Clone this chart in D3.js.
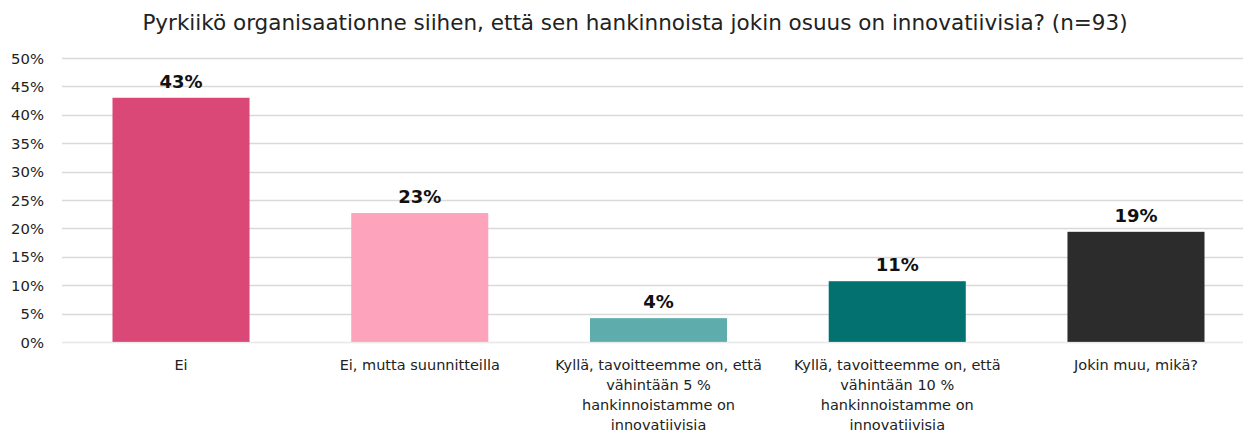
<!DOCTYPE html>
<html><head><meta charset="utf-8">
<script src="https://cdn.jsdelivr.net/npm/d3@7"></script>
<style>body{margin:0;background:#fff}svg{display:block}text{font-family:"DejaVu Sans",Verdana,sans-serif}</style>
</head><body><svg id="c" width="1245" height="431"></svg>
<script>
const title = "Pyrkiikö organisaationne siihen, että sen hankinnoista jokin osuus on innovatiivisia? (n=93)";
const categories = [
  ["Ei"],
  ["Ei, mutta suunnitteilla"],
  ["Kyllä, tavoitteemme on, että", "vähintään 5 %", "hankinnoistamme on", "innovatiivisia"],
  ["Kyllä, tavoitteemme on, että", "vähintään 10 %", "hankinnoistamme on", "innovatiivisia"],
  ["Jokin muu, mikä?"]
];
const values = [0.43, 0.227, 0.042, 0.107, 0.194];
const valueLabels = ["43%", "23%", "4%", "11%", "19%"];
const colors = ["#da4877", "#fda3bb", "#5eadac", "#02716f", "#2c2c2c"];
const ticks = [0,0.05,0.1,0.15,0.2,0.25,0.3,0.35,0.4,0.45,0.5];

const svg = d3.select("#c");
const W = 1245, H = 431;
const m = {l:62, r:2, t:58, b:89};
const x = d3.scaleBand().domain(d3.range(categories.length)).range([m.l, 1255]).paddingInner(0.426).paddingOuter(0.2115);
const y = d3.scaleLinear().domain([0,0.5]).range([H-m.b, m.t]);

// title
const t = svg.append("text").attr("x", 635).attr("y", 30).attr("text-anchor","middle")
  .style("font-size","20px").attr("fill","#222").text(title);
const tw = t.node().getComputedTextLength();
t.style("font-size", (20*985/tw).toFixed(2)+"px");

// grid
svg.append("g").selectAll("line").data(ticks).join("line")
  .attr("x1", m.l).attr("x2", W-m.r).attr("y1", d=>Math.round(y(d))+0.5).attr("y2", d=>Math.round(y(d))+0.5)
  .attr("stroke","#d9d9d9").attr("stroke-width",1.5);

// y axis labels
svg.append("g").selectAll("text").data(ticks).join("text")
  .attr("x", 44).attr("y", d=>y(d)+5.5).attr("text-anchor","end")
  .style("font-size","14.8px").attr("fill","#222").text(d=>Math.round(d*100)+"%");

// bars
svg.append("g").selectAll("rect").data(values).join("rect")
  .attr("x",(d,i)=>x(i)).attr("width",x.bandwidth())
  .attr("y",d=>y(d)).attr("height",d=>y(0)-y(d)).attr("fill",(d,i)=>colors[i]);
// baseline over bars
svg.append("line").attr("x1",m.l).attr("x2",W-m.r).attr("y1",Math.round(y(0))+0.5).attr("y2",Math.round(y(0))+0.5)
  .attr("stroke","#ffffff").attr("stroke-opacity",0.45).attr("stroke-width",1.5);

// value labels
svg.append("g").selectAll("text").data(values).join("text")
  .attr("x",(d,i)=>x(i)+x.bandwidth()/2).attr("y",d=>y(d)-10).attr("text-anchor","middle")
  .style("font-size","18px").style("font-weight","bold").attr("fill","#111").text((d,i)=>valueLabels[i]);

// category labels
const cg = svg.append("g").selectAll("text").data(categories).join("text")
  .attr("x",(d,i)=>x(i)+x.bandwidth()/2).attr("y", 370).attr("text-anchor","middle")
  .style("font-size","14.5px").attr("fill","#222");
cg.selectAll("tspan").data(d=>d).join("tspan")
  .attr("x", function(){return this.parentNode.getAttribute("x");})
  .attr("dy",(d,j)=>j===0?0:20).text(d=>d);
</script></body></html>
